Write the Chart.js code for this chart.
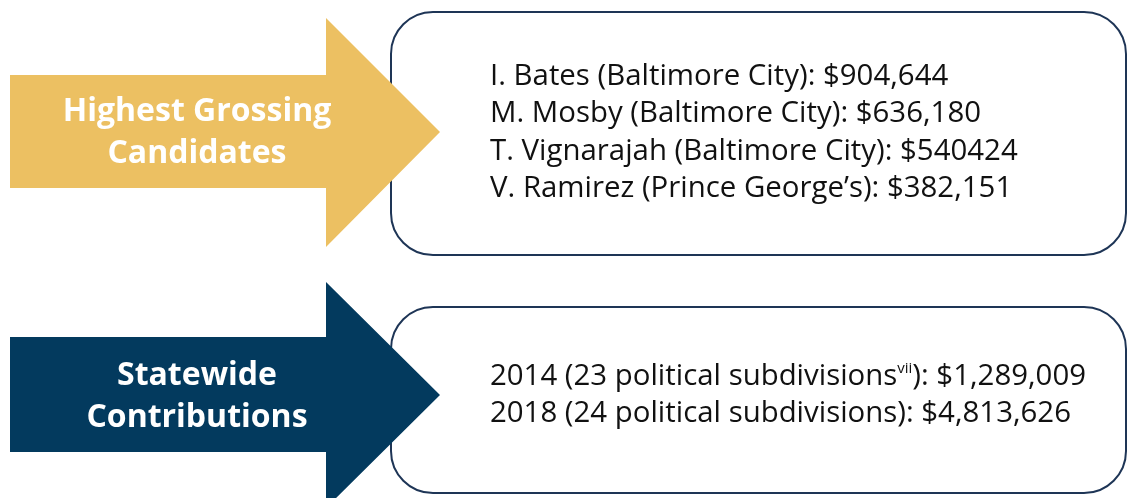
<!DOCTYPE html>
<html>
<head>
<meta charset="utf-8">
<script src="https://cdn.jsdelivr.net/npm/chart.js@4"></script>
<style>
  html, body { margin: 0; padding: 0; background: #fff; }
  #wrap { width: 1128px; height: 498px; }
</style>
</head>
<body>
<div id="wrap"><canvas id="chart" width="1128" height="498"></canvas></div>
<script>
// headings on the arrows
const headings = [['Highest Grossing', 'Candidates'], ['Statewide', 'Contributions']];

// top box: highest grossing candidates
const candidates = ['I. Bates', 'M. Mosby', 'T. Vignarajah', 'V. Ramirez'];
const jurisdictions = ['Baltimore City', 'Baltimore City', 'Baltimore City', 'Prince George\u2019s'];
const raised = ['$904,644', '$636,180', '$540424', '$382,151'];

// bottom box: statewide contributions
const years = ['2014', '2018'];
const subdivisions = [23, 24];
const footnotes = ['vii', ''];
const totals = ['$1,289,009', '$4,813,626'];

const gold = '#ECC062';
const navy = '#033A5E';
const boxLine = '#1E3556';

// panels in chart units (x 0..1128, y 0..498)
const panels = [
  {color: gold, body: [10, 75, 326, 188], head: [18, 247], tip: [440, 132],
   box: [391, 12, 1126, 255], headY: [121, 163], textY: [85, 122, 160, 197]},
  {color: navy, body: [10, 337, 326, 452], head: [282, 508], tip: [440, 395],
   box: [391, 307, 1126, 493], headY: [385, 427], textY: [385, 422]}
];

const infographic = {
  id: 'infographic',
  afterDraw(chart) {
    const ctx = chart.ctx;
    const sx = chart.scales.x, sy = chart.scales.y;
    const X = v => sx.getPixelForValue(v);
    const Y = v => sy.getPixelForValue(v);

    const lines = [
      candidates.map((c, i) => [c + ' (' + jurisdictions[i] + '): ' + raised[i]]),
      years.map((yr, i) => footnotes[i]
        ? [yr + ' (' + subdivisions[i] + ' political subdivisions', footnotes[i], '): ' + totals[i]]
        : [yr + ' (' + subdivisions[i] + ' political subdivisions): ' + totals[i]])
    ];

    panels.forEach((p, k) => {
      // rounded box first, arrow drawn over it
      const [bx0, by0, bx1, by1] = p.box;
      ctx.save();
      ctx.beginPath();
      ctx.roundRect(X(bx0), Y(by0), X(bx1) - X(bx0), Y(by1) - Y(by0), 42);
      ctx.fillStyle = '#fff';
      ctx.fill();
      ctx.lineWidth = 2;
      ctx.strokeStyle = boxLine;
      ctx.stroke();

      // arrow
      const [ax0, ay0, ax1, ay1] = p.body;
      ctx.beginPath();
      ctx.moveTo(X(ax0), Y(ay0));
      ctx.lineTo(X(ax1), Y(ay0));
      ctx.lineTo(X(ax1), Y(p.head[0]));
      ctx.lineTo(X(p.tip[0]), Y(p.tip[1]));
      ctx.lineTo(X(ax1), Y(p.head[1]));
      ctx.lineTo(X(ax1), Y(ay1));
      ctx.lineTo(X(ax0), Y(ay1));
      ctx.closePath();
      ctx.fillStyle = p.color;
      ctx.fill();

      // arrow heading
      ctx.fillStyle = '#fff';
      ctx.font = 'bold 32px "Open Sans"';
      ctx.textAlign = 'center';
      ctx.textBaseline = 'alphabetic';
      headings[k].forEach((t, i) => ctx.fillText(t, X(197), Y(p.headY[i])));

      // box text
      ctx.fillStyle = '#111';
      ctx.textAlign = 'left';
      lines[k].forEach((parts, i) => {
        let x = X(490);
        const y = Y(p.textY[i]);
        parts.forEach((s, j) => {
          if (parts.length === 3 && j === 1) {
            ctx.font = '15px "Open Sans"';
            ctx.fillText(s, x, y - 12);
          } else {
            ctx.font = '29.4px "Open Sans"';
            ctx.fillText(s, x, y);
          }
          x += ctx.measureText(s).width;
        });
      });
      ctx.restore();
    });
  }
};

new Chart(document.getElementById('chart'), {
  type: 'scatter',
  data: {datasets: []},
  options: {
    responsive: false,
    devicePixelRatio: 1,
    animation: false,
    layout: {padding: 0},
    plugins: {legend: {display: false}, tooltip: {enabled: false}},
    scales: {
      x: {type: 'linear', min: 0, max: 1128, display: false},
      y: {type: 'linear', min: 0, max: 498, reverse: true, display: false}
    }
  },
  plugins: [infographic]
});
</script>
</body>
</html>
